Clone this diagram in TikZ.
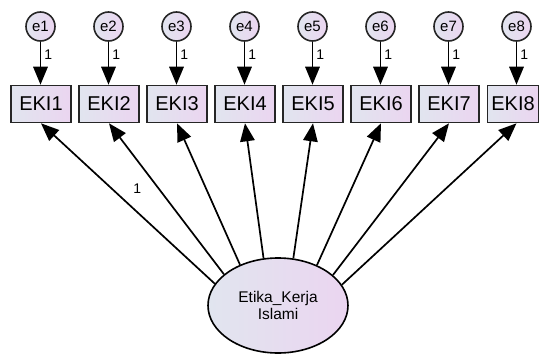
\documentclass[tikz,border=0pt]{standalone}
\usepackage{fontspec}
\setmainfont{Liberation Sans}
\usetikzlibrary{arrows.meta,shapes.geometric}
\definecolor{fillA}{HTML}{E1E5EF}
\definecolor{fillB}{HTML}{EBD5F0}
\begin{document}
\begin{tikzpicture}[x=1pt,y=-1pt,
  obs/.style={draw=black!85, line width=1.6pt, minimum width=60pt, minimum height=37pt,
    inner sep=0pt, left color=fillA, right color=fillB, font=\fontsize{20}{20}\selectfont},
  err/.style={circle, draw=black!85, line width=1.6pt, minimum size=29pt, inner sep=0pt,
    left color=fillA, right color=fillB, font=\fontsize{15}{15}\selectfont},
  lat/.style={ellipse, draw=black, line width=1.6pt, minimum width=140pt, minimum height=95pt,
    inner sep=0pt, left color=fillA, right color=fillB, align=center,
    font=\fontsize{15.5}{17.5}\selectfont},
  load/.style={-{Triangle[length=18pt,width=14.5pt]}, line width=1.7pt},
  wt/.style={font=\fontsize{14}{14}\selectfont, inner sep=1pt}
]
\useasboundingbox (0,0) rectangle (539,356);

% error terms and indicators
\foreach \i in {1,...,7} {
  \node[err] (e\i) at ({40.5+68*(\i-1)},26.5) {e\i};
  \node[obs] (k\i) at ({41+68*(\i-1)},104) {EKI\i};
}
\node[err] (e8) at (516.5,26.5) {e8};
\node[obs, minimum width=51pt] (k8) at (513,104) {EKI8};

\foreach \i in {1,...,8} {
  \draw[load] (e\i.south) -- node[wt, pos=0.3, anchor=west, xshift=2pt] {1} (e\i.south |- k\i.north);
}

% latent factor
\node[lat] (eta) at (278,305.5) {Etika\_Kerja\\Islami};

% factor loadings
\draw[load] (eta.161.8) -- node[wt, pos=0.59, xshift=25pt] {1} (k1.south);
\draw[load] (eta.150.8) -- (k2.south);
\draw[load] (eta.133.6) -- (k3.south);
\draw[load] (eta.107.9) -- (k4.south);
\draw[load] (eta.72.1) -- (k5.south);
\draw[load] (eta.46.4) -- (k6.south);
\draw[load] (eta.29.2) -- (k7.south);
\draw[load] (eta.18.2) -- (e8.south |- k8.south);
\end{tikzpicture}
\end{document}
